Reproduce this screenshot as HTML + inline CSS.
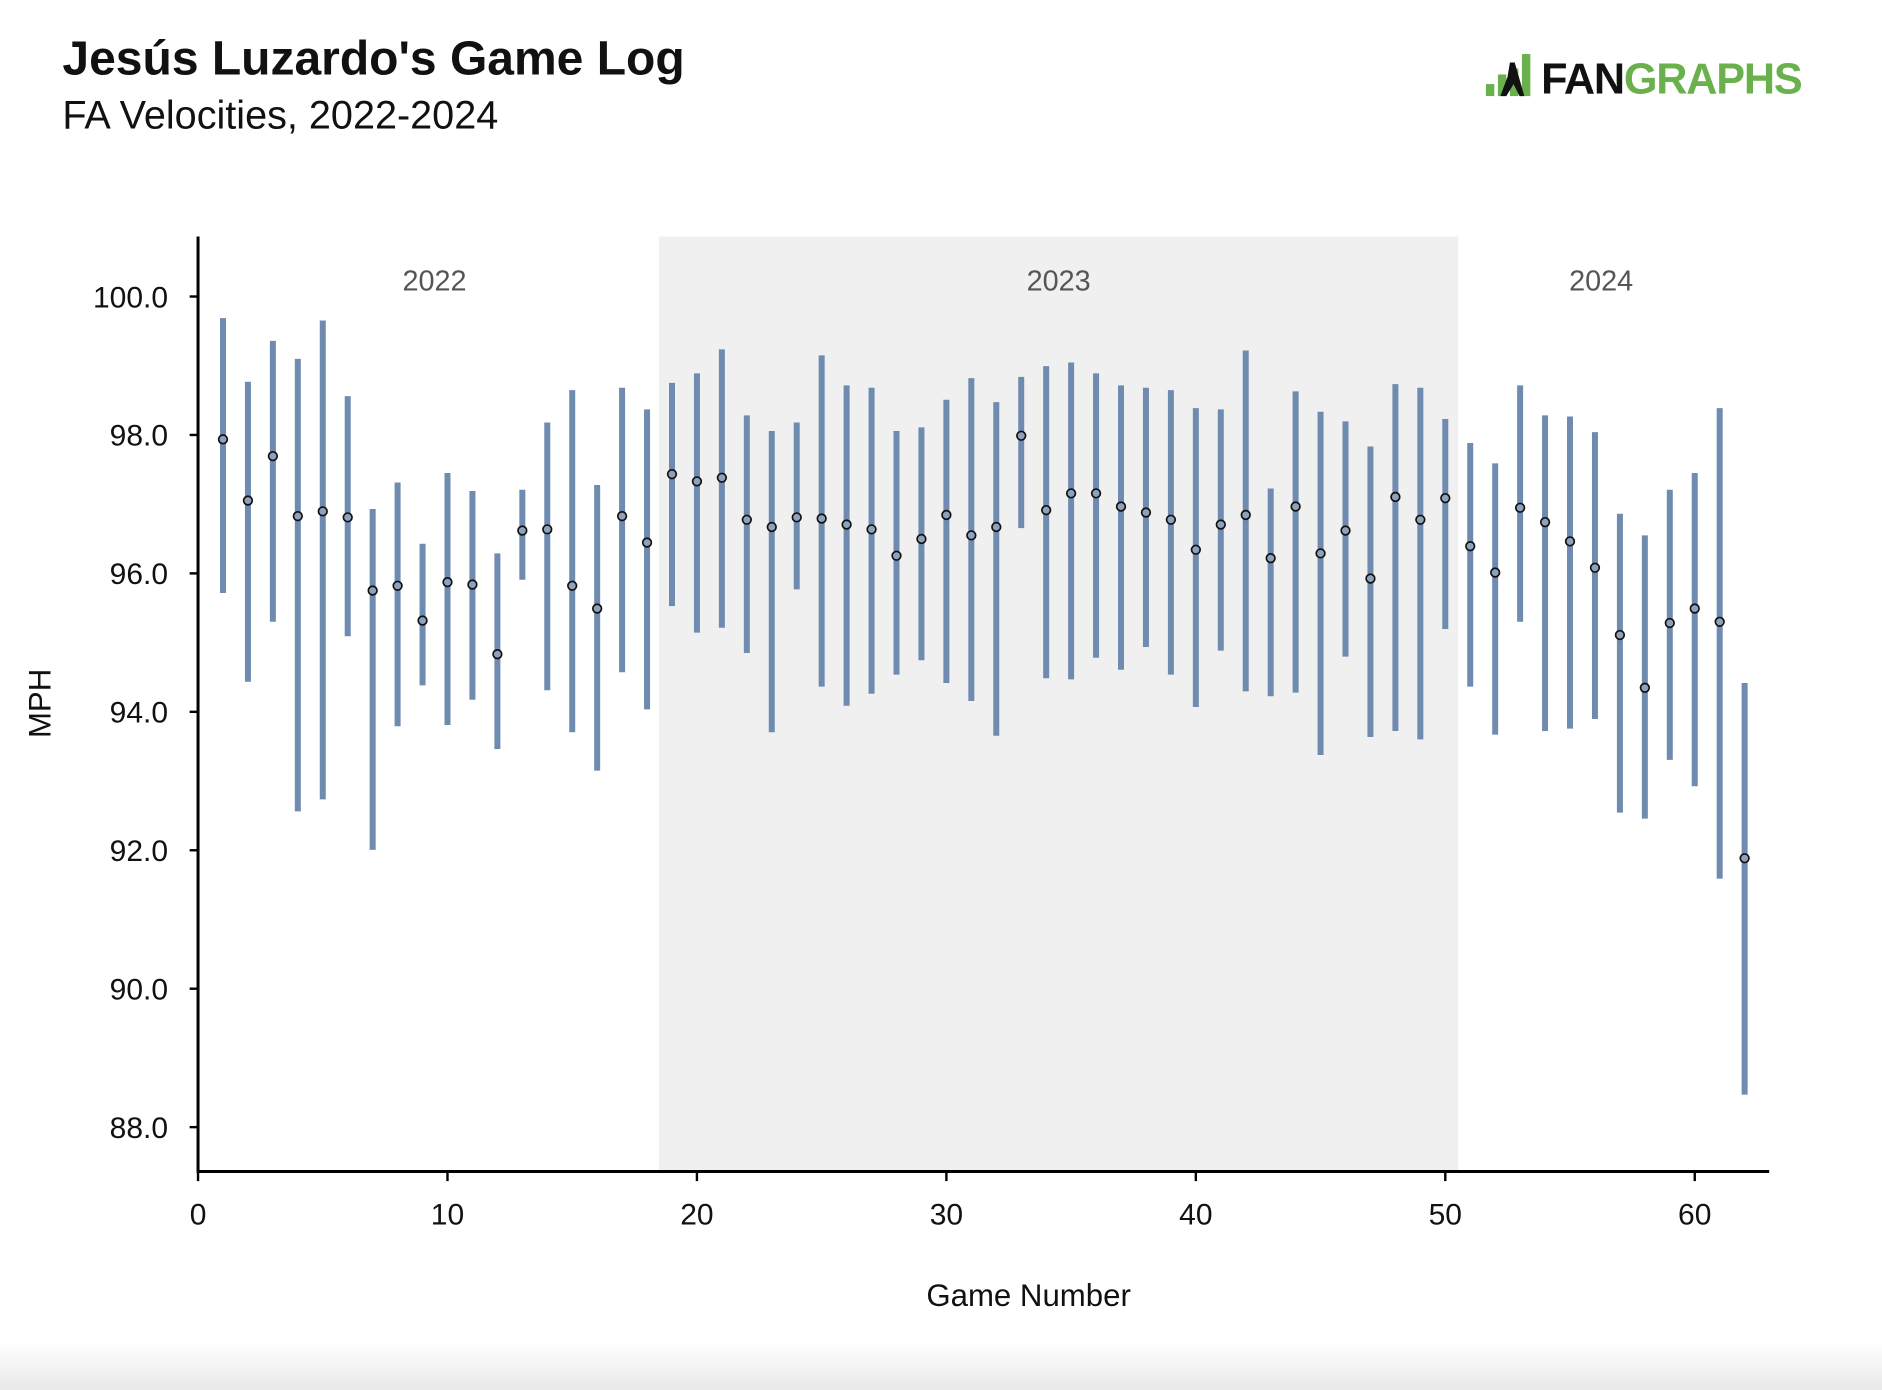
<!DOCTYPE html>
<html><head><meta charset="utf-8"><style>
html,body{margin:0;padding:0;background:#fff;}
svg{display:block;}
text{font-family:"Liberation Sans",sans-serif;}
</style></head><body>
<svg width="1882" height="1390" viewBox="0 0 1568 1158" xmlns="http://www.w3.org/2000/svg">
<defs><linearGradient id="g" x1="0" y1="0" x2="0" y2="1"><stop offset="0" stop-color="#fff"/><stop offset="1" stop-color="#e8e8e8"/></linearGradient></defs>
<rect x="0" y="1118" width="1568" height="40" fill="url(#g)"/>
<text x="52" y="62" font-size="40" font-weight="bold" fill="#111">Jesús Luzardo's Game Log</text>
<text x="52" y="107" font-size="33" fill="#111">FA Velocities, 2022-2024</text>
<g>
<rect x="1238" y="70" width="7" height="10" fill="#6ab04c"/>
<rect x="1248" y="62" width="7" height="18" fill="#6ab04c"/>
<rect x="1258" y="57" width="7" height="23" fill="#6ab04c"/>
<rect x="1268" y="45" width="7" height="35" fill="#6ab04c"/>
<path d="M1250 80 L1256 64 L1258 52 L1262 52 L1266 66 L1270 80 L1266 80 L1261 70 L1255 80Z" fill="#111"/>
<text x="1284" y="78" font-size="36" font-weight="bold" fill="#111" letter-spacing="-1">FAN<tspan fill="#6ab04c">GRAPHS</tspan></text>
</g>
<rect x="549" y="197" width="666" height="779" fill="#f0f0f0"/>
<text x="362" y="242" font-size="24" fill="#555" text-anchor="middle">2022</text>
<text x="882" y="242" font-size="24" fill="#555" text-anchor="middle">2023</text>
<text x="1334" y="242" font-size="24" fill="#555" text-anchor="middle">2024</text>
<line x1="165" y1="197" x2="165" y2="977" stroke="#000" stroke-width="2.5"/>
<line x1="164" y1="976" x2="1474" y2="976" stroke="#000" stroke-width="2.5"/>
<g font-size="25" fill="#111" text-anchor="end" id="yt"></g>
<g font-size="25" fill="#111" text-anchor="middle" id="xt"></g>
<text x="857" y="1088" font-size="26" fill="#111" text-anchor="middle">Game Number</text>
<text transform="translate(42,586) rotate(-90)" font-size="26" fill="#111" text-anchor="middle">MPH</text>
<g id="bars"></g>
</svg>
<script>
var ns="http://www.w3.org/2000/svg";
function el(p,t,a,txt){var e=document.createElementNS(ns,t);for(var k in a)e.setAttribute(k,a[k]);if(txt)e.textContent=txt;p.appendChild(e);return e;}
var yt=document.getElementById("yt"),xt=document.getElementById("xt"),b=document.getElementById("bars");
for(var v=88;v<=100;v+=2){var y=247+(100-v)*57.67;el(yt,"text",{x:140,y:y+9},v.toFixed(1));el(yt,"line",{x1:158,x2:165,y1:y,y2:y,stroke:"#000","stroke-width":2});}
for(var g=0;g<=60;g+=10){var x=165+g*20.783;el(xt,"text",{x:x,y:1020},String(g));el(xt,"line",{x1:x,x2:x,y1:976,y2:984,stroke:"#000","stroke-width":2});}
var d=[[366,265,494],[417,318,568],[380,284,518],[430,299,676],[426,267,666],[431,330,530],[492,424,708],[488,402,605],[517,453,571],[485,394,604],[487,409,583],[545,461,624],[442,408,483],[441,352,575],[488,325,610],[507,404,642],[430,323,560],[452,341,591],[395,319,505],[401,311,527],[398,291,523],[433,346,544],[439,359,610],[431,352,491],[432,296,572],[437,321,588],[441,323,578],[463,359,562],[449,356,550],[429,333,569],[446,315,584],[439,335,613],[363,314,440],[425,305,565],[411,302,566],[411,311,548],[422,321,558],[427,323,539],[433,325,562],[458,340,589],[437,341,542],[429,292,576],[465,407,580],[422,326,577],[461,343,629],[442,351,547],[482,372,614],[414,320,609],[433,323,616],[415,349,524],[455,369,572],[477,386,612],[423,321,518],[435,346,609],[451,347,607],[473,360,599],[529,428,677],[573,446,682],[519,408,633],[507,394,655],[518,340,732],[715,569,912]];
d.forEach(function(r,i){var x=165+(i+1)*20.783;el(b,"line",{x1:x,x2:x,y1:r[1],y2:r[2],stroke:"#6f8bb0","stroke-width":5});});
d.forEach(function(r,i){var x=165+(i+1)*20.783;el(b,"circle",{cx:x,cy:r[0],r:3.6,fill:"#8ea2bd",stroke:"#111","stroke-width":1.4});});
</script>
</body></html>
